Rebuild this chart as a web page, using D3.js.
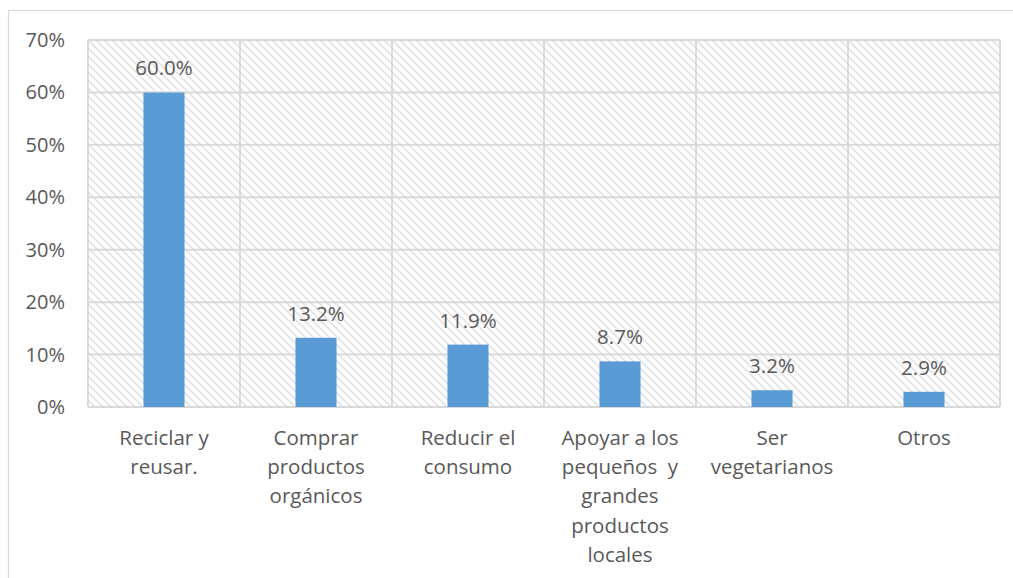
<!DOCTYPE html>
<html>
<head>
<meta charset="utf-8">
<script src="https://cdn.jsdelivr.net/npm/d3@7"></script>
<style>
  body { margin: 0; background: #fff; }
  text { font-family: "Open Sans", sans-serif; fill: #595959; }
</style>
</head>
<body>
<div id="chart"></div>
<script>
// Chart data
const categories = ['Reciclar y reusar.', 'Comprar productos orgánicos', 'Reducir el consumo',
  'Apoyar a los pequeños  y grandes productos locales', 'Ser vegetarianos', 'Otros']
const labelLines = [
  ['Reciclar y', 'reusar.'],
  ['Comprar', 'productos', 'orgánicos'],
  ['Reducir el', 'consumo'],
  ['Apoyar a los', 'pequeños  y', 'grandes', 'productos', 'locales'],
  ['Ser', 'vegetarianos'],
  ['Otros']
]
const values = [60.0, 13.2, 11.9, 8.7, 3.2, 2.9]
const yTicks = [0, 10, 20, 30, 40, 50, 60, 70]

const width = 1013
const height = 578
const plot = { left: 88, right: 1000, top: 40, bottom: 407 }

const svg = d3.select('#chart')
  .append('svg')
  .attr('width', width)
  .attr('height', height)

// hatch pattern for the plot background
const pattern = svg.append('defs').append('pattern')
  .attr('id', 'hatch')
  .attr('patternUnits', 'userSpaceOnUse')
  .attr('width', 8)
  .attr('height', 8)
pattern.append('rect').attr('width', 8).attr('height', 8).attr('fill', '#fff')
pattern.append('path')
  .attr('d', 'M-2,-2L10,10M-2,6L2,10M6,-2L10,2')
  .attr('stroke', '#e4e4e4')
  .attr('stroke-width', 1.8)

// chart frame (cut off at right and bottom)
svg.append('rect')
  .attr('x', 8.5).attr('y', 10.5)
  .attr('width', width + 10).attr('height', height + 10)
  .attr('fill', 'none')
  .attr('stroke', '#d9d9d9')
  .attr('stroke-width', 1.2)

const x = d3.scaleBand()
  .domain(categories)
  .range([plot.left, plot.right])

const y = d3.scaleLinear()
  .domain([0, 70])
  .range([plot.bottom, plot.top])

svg.append('rect')
  .attr('x', plot.left).attr('y', plot.top)
  .attr('width', plot.right - plot.left)
  .attr('height', plot.bottom - plot.top)
  .attr('fill', 'url(#hatch)')

// gridlines
svg.append('g')
  .selectAll('line')
  .data(yTicks)
  .enter().append('line')
  .attr('x1', plot.left).attr('x2', plot.right)
  .attr('y1', d => y(d)).attr('y2', d => y(d))
  .attr('stroke', '#d9d9d9')
  .attr('stroke-width', 2)

const bounds = categories.map(c => x(c)).concat([plot.right])
svg.append('g')
  .selectAll('line')
  .data(bounds)
  .enter().append('line')
  .attr('x1', d => d).attr('x2', d => d)
  .attr('y1', plot.top).attr('y2', plot.bottom)
  .attr('stroke', '#d9d9d9')
  .attr('stroke-width', 2)

// y tick labels
svg.append('g')
  .selectAll('text')
  .data(yTicks)
  .enter().append('text')
  .attr('x', 65)
  .attr('y', d => y(d))
  .attr('dy', '0.35em')
  .attr('text-anchor', 'end')
  .style('font-size', '20px')
  .text(d => d + '%')

// bars
const barW = x.bandwidth() * 0.27
svg.append('g')
  .selectAll('rect')
  .data(values)
  .enter().append('rect')
  .attr('x', (d, i) => x(categories[i]) + (x.bandwidth() - barW) / 2)
  .attr('y', d => y(d))
  .attr('width', barW)
  .attr('height', d => y(0) - y(d))
  .attr('fill', '#5b9bd5')

// data labels
svg.append('g')
  .selectAll('text')
  .data(values)
  .enter().append('text')
  .attr('x', (d, i) => x(categories[i]) + x.bandwidth() / 2)
  .attr('y', d => y(d) - 17)
  .attr('text-anchor', 'middle')
  .style('font-size', '20.5px')
  .text(d => d.toFixed(1) + '%')

// category labels
const cat = svg.append('g')
  .selectAll('text')
  .data(labelLines)
  .enter().append('text')
  .attr('text-anchor', 'middle')
  .style('font-size', '20.5px')
  .style('white-space', 'pre')
  .attr('xml:space', 'preserve')

cat.selectAll('tspan')
  .data((d, i) => d.map(t => ({ t, i })))
  .enter().append('tspan')
  .attr('x', d => x(categories[d.i]) + x.bandwidth() / 2)
  .attr('y', (d, j) => 445 + j * 29.2)
  .text(d => d.t)
</script>
</body>
</html>
